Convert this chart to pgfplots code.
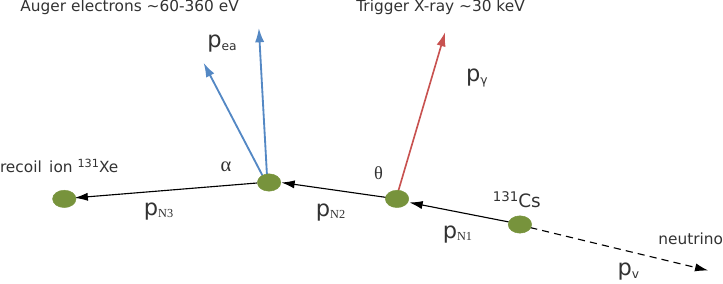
\documentclass[border=0pt]{standalone}
\usepackage{pgfplots}
\pgfplotsset{compat=1.18}
\usepackage{fontspec}
\setmainfont{DejaVu Sans}
\newfontfamily\serif{Liberation Serif}
\usetikzlibrary{arrows.meta}
\definecolor{nodegreen}{RGB}{119,147,60}
\definecolor{augblue}{RGB}{84,136,196}
\definecolor{xred}{RGB}{200,82,80}
\definecolor{txt}{RGB}{50,50,50}
\newcommand{\lbl}[1]{{\fontsize{15}{17}\selectfont #1}}
\newcommand{\pp}[1]{{\fontsize{22}{22}\selectfont p}{\serif\fontsize{12}{12}\selectfont\raisebox{-2pt}{#1}}}
\newcommand{\ps}[1]{{\fontsize{22}{22}\selectfont p}{\fontsize{12}{12}\selectfont\raisebox{-3pt}{#1}}}
\begin{document}
\begin{tikzpicture}
\begin{axis}[x=1pt,y=1pt,xmin=0,xmax=723,ymin=0,ymax=288,y dir=reverse,
  hide axis,clip=false,scale only axis]
% momentum arrows (black)
\addplot[black,line width=1.1pt,-{Latex[length=13pt,width=8pt]}] coordinates {(506,221.5) (409,202.5)};
\addplot[black,line width=1.1pt,-{Latex[length=13pt,width=8pt]}] coordinates {(386,197.5) (284,183)};
\addplot[black,line width=1.1pt,-{Latex[length=13pt,width=8pt]}] coordinates {(260,183.5) (82,198)};
% neutrino (dashed)
\addplot[black,line width=1.1pt,dash pattern=on 7pt off 5pt,-{Latex[length=13pt,width=8pt]}] coordinates {(527,227) (701,269)};
% Auger electrons (blue)
\addplot[augblue,line width=1.8pt,-{Latex[length=14pt,width=9pt]}] coordinates {(266,177) (208,66)};
\addplot[augblue,line width=1.8pt,-{Latex[length=14pt,width=9pt]}] coordinates {(270,177) (262,32)};
% X-ray (red)
\addplot[xred,line width=1.6pt,-{Latex[length=14pt,width=9pt]}] coordinates {(398,192) (444,36)};
% particles
\addplot[only marks,mark=*,mark size=8.5pt,mark options={xscale=1.35,fill=nodegreen,draw=nodegreen}]
  coordinates {(72,199) (272,183) (397,199) (517,224)};
% labels
\node[txt,anchor=west,inner sep=0pt] at (axis cs:29,12) {\lbl{Auger electrons \textasciitilde 60-360 eV}};
\node[txt,anchor=west,inner sep=0pt] at (axis cs:357,12) {\lbl{Trigger X-ray \textasciitilde 30 keV}};
\node[txt,anchor=west,inner sep=0pt] at (axis cs:9,167) {\lbl{recoil\, ion {\fontsize{11}{11}\selectfont\raisebox{5pt}{131}}Xe}};
\node[txt,anchor=west,inner sep=0pt] at (axis cs:652,238) {\lbl{neutrino}};
\node[txt] at (axis cs:514,200) {{\fontsize{13}{13}\selectfont\raisebox{6pt}{131}}{\fontsize{18}{18}\selectfont Cs}};
\node[txt] at (axis cs:230,168) {\serif\fontsize{20}{20}\selectfont α};
\node[txt] at (axis cs:379,174) {\serif\fontsize{18}{18}\selectfont θ};
\node[txt] at (axis cs:226,47) {\ps{ea}};
\node[txt] at (axis cs:475,81) {\ps{γ}};
\node[txt] at (axis cs:164,211) {\pp{N3}};
\node[txt] at (axis cs:332,212) {\pp{N2}};
\node[txt] at (axis cs:456,234) {\pp{N1}};
\node[txt] at (axis cs:623,270) {\ps{v}};
\end{axis}
\end{tikzpicture}
\end{document}
